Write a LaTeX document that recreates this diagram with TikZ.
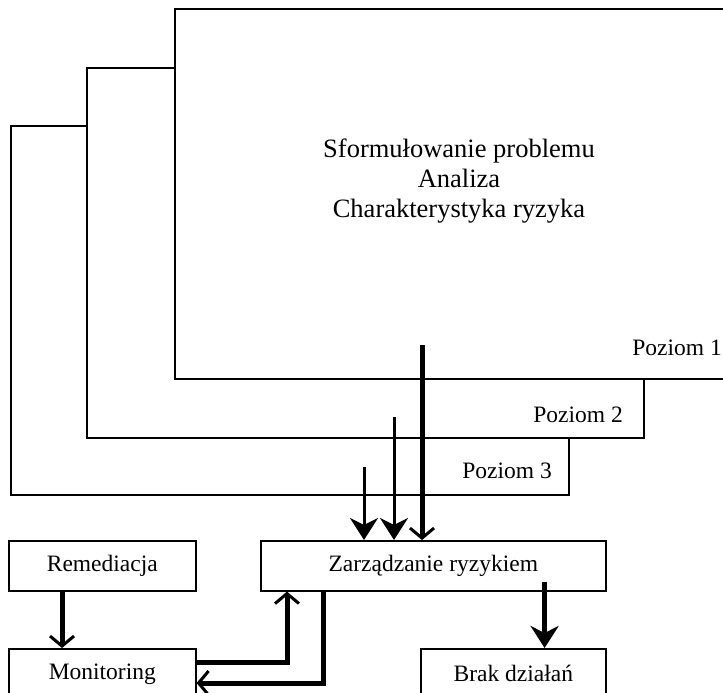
\documentclass[tikz,border=0pt]{standalone}
\usepackage{fontspec}
\setmainfont{Liberation Serif}
\usetikzlibrary{positioning, arrows.meta}

\tikzset{
  levelbox/.style={draw, line width=1.6pt, fill=white, anchor=north west, inner sep=0pt},
  stepbox/.style={draw, line width=1.6pt, anchor=north west, inner sep=0pt, font=\fontsize{23.5}{28}\selectfont},
  lbl/.style={inner sep=0pt, anchor=base east, font=\fontsize{23.5}{28}\selectfont},
  bigarr/.style={line width=3pt, -{Stealth[length=22pt, width=28pt, inset=7pt]}},
  barbarr/.style={line width=5pt, -{Straight Barb[length=10pt, width=24pt, line width=3pt]}}
}

\begin{document}
\begin{tikzpicture}[x=1pt, y=-1pt]
  \useasboundingbox (0,0) rectangle (723,693);
  \clip (0,0) rectangle (723,693);

  % levels, back to front
  \node[levelbox, minimum width=558pt, minimum height=369pt] (poz3) at (10,125) {};
  \node[levelbox, minimum width=557pt, minimum height=370pt] (poz2) at (86,67) {};
  \node[levelbox, minimum width=600pt, minimum height=370pt] (poz1) at (174,8) {};

  \node[inner sep=0pt, align=center, font=\fontsize{26.5}{30}\selectfont] (opis) at (459,181)
    {Sformułowanie problemu\\Analiza\\Charakterystyka ryzyka};

  \node[lbl] (l1) at (722,355) {Poziom 1};
  \node[lbl] (l2) at (623,422) {Poziom 2};
  \node[lbl] (l3) at (552,478) {Poziom 3};

  % lower boxes
  \node[stepbox, minimum width=187pt, minimum height=50pt] (rem) at (8,540) {Remediacja};
  \node[stepbox, minimum width=345pt, minimum height=50pt] (zarz) at (260,540) {Zarządzanie ryzykiem};
  \node[stepbox, minimum width=187pt, minimum height=50pt] (mon) at (8,648) {Monitoring};
  \node[stepbox, minimum width=185pt, minimum height=50pt] (brak) at (420,648) {Brak działań};

  % arrows from the levels
  \coordinate (s3) at (364,467);
  \coordinate (s2) at (394,417);
  \coordinate (s1) at (422,345);
  \draw[bigarr] (s3) -- (s3 |- zarz.north);
  \draw[bigarr] (s2) -- (s2 |- zarz.north);
  \draw[barbarr] (s1) -- (s1 |- zarz.north);

  % lower arrows
  \draw[barbarr] ([xshift=54pt]rem.south west) -- ([xshift=54pt]mon.north west);
  \draw[barbarr] ([yshift=-14pt]mon.north east) -| ([xshift=27pt]zarz.south west);
  \draw[barbarr] ([xshift=63pt]zarz.south west) |- ([yshift=-35pt]mon.north east);
  \draw[bigarr, line width=5pt] ([xshift=-62pt, yshift=10pt]zarz.south east) -- ([xshift=-62pt]zarz.south east |- brak.north);
\end{tikzpicture}
\end{document}
